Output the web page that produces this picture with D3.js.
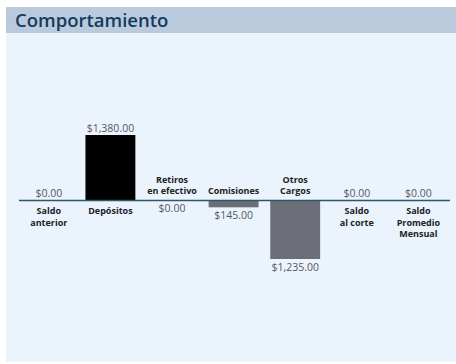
<!DOCTYPE html>
<html><head><meta charset="utf-8">
<script src="https://cdn.jsdelivr.net/npm/d3@7/dist/d3.min.js"></script>
<style>html,body{margin:0;padding:0;background:#fff;}svg{display:block;}</style>
</head><body>
<svg id="chart" width="456" height="364"></svg>
<script>
const title = "Comportamiento";
const categories = [["Saldo","anterior"],["Depósitos"],["Retiros","en efectivo"],["Comisiones"],["Otros","Cargos"],["Saldo","al corte"],["Saldo","Promedio","Mensual"]];
const values = [0, 1380, -0, -145, -1235, 0, 0];
const negativeSide = [false, false, true, true, true, false, false];
const valueLabels = ["$0.00","$1,380.00","$0.00","$145.00","$1,235.00","$0.00","$0.00"];
const barColors = ["#000","#000","#6b6e78","#6b6e78","#6b6e78","#000","#000"];

const svg = d3.select("#chart");
const font = "'Open Sans', sans-serif";
// panel
svg.append("rect").attr("x",6).attr("y",7).attr("width",450).attr("height",355).attr("fill","#ebf3fd");
svg.append("rect").attr("x",6).attr("y",7).attr("width",450).attr("height",26).attr("fill","#b9cadd");
svg.append("text").attr("x",15).attr("y",27).text(title)
  .attr("font-family",font).attr("font-size",18.5).attr("font-weight",600).attr("fill","#163a5c");

const x = d3.scaleBand().domain(d3.range(categories.length)).range([17.7,449.5]).paddingInner(0.19).paddingOuter(0.1);
const y = d3.scaleLinear().domain([-1235, 1380]).range([259, 135]);
const y0 = y(0);

const g = svg.append("g");
g.selectAll("rect.bar").data(values).join("rect").attr("class","bar")
  .attr("x",(d,i)=>x(i)).attr("width",x.bandwidth())
  .attr("y",d=>Math.min(y(d),y0)).attr("height",d=>Math.abs(y(d)-y0))
  .attr("fill",(d,i)=>barColors[i]);

g.append("line").attr("x1",19).attr("x2",450).attr("y1",y0).attr("y2",y0)
  .attr("stroke","#2d5866").attr("stroke-width",1.5);

// value labels
g.selectAll("text.val").data(values).join("text").attr("class","val")
  .attr("x",(d,i)=>x(i)+x.bandwidth()/2)
  .attr("y",(d,i)=> negativeSide[i] ? Math.max(y(d),y0)+12 : Math.min(y(d),y0)-3)
  .attr("text-anchor","middle").attr("font-family",font).attr("font-size",10.5)
  .attr("fill","#55595f").text((d,i)=>valueLabels[i]);

// category labels
categories.forEach((lines,i)=>{
  const cx = x(i)+x.bandwidth()/2;
  const lh = 11.5;
  lines.forEach((t,k)=>{
    const yy = negativeSide[i] ? y0 - 6 - (lines.length-1-k)*lh : y0 + 14 + k*lh;
    g.append("text").attr("x",cx).attr("y",yy).attr("text-anchor","middle")
      .attr("font-family",font).attr("font-size",9).attr("font-weight",700)
      .attr("fill","#222").text(t);
  });
});
</script>
</body></html>
